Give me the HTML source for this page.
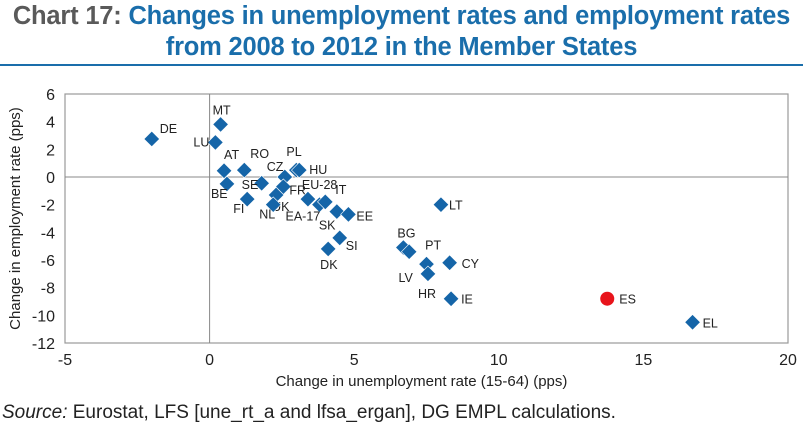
<!DOCTYPE html>
<html><head><meta charset="utf-8">
<style>
body{margin:0;width:803px;height:433px;background:#fff;overflow:hidden;font-family:"Liberation Sans",sans-serif;}
#title{position:absolute;left:0;top:1px;width:803px;font-weight:bold;font-size:25.5px;line-height:31px;color:#1a6eab;text-align:center;letter-spacing:-0.2px;}
#title .lab{color:#5a5a5a}
#rule{position:absolute;left:0;top:64px;width:803px;height:2px;background:#1a6eab}
#source{position:absolute;left:2px;top:402px;font-size:19px;color:#222}
svg{position:absolute;left:0;top:0}
</style></head><body>
<div id="title"><span class="lab">Chart 17:</span> Changes in unemployment rates and employment rates<br>from 2008 to 2012 in the Member States</div>
<div id="rule"></div>
<svg id="chart" width="803" height="433"></svg>
<div id="source"><i>Source:</i> Eurostat, LFS [une_rt_a and lfsa_ergan], DG EMPL calculations.</div>
<script>
const countries=["DE","MT","LU","AT","RO","BE","SE","CZ","PL","HU","FR","UK","NL","FI","EU-28","EA-17","IT","SK","EE","SI","DK","LT","BG","PT","LV","CY","HR","IE","ES","EL"];
const unempChange=[-2.0,0.38,0.2,0.5,1.2,0.6,1.8,2.6,3.0,3.1,2.55,2.3,2.2,1.3,3.4,3.8,4.0,4.4,4.8,4.5,4.1,8.0,6.7,6.9,7.5,8.3,7.55,8.35,13.75,16.7];
const empChange=[2.75,3.8,2.5,0.45,0.5,-0.5,-0.45,0,0.5,0.5,-0.7,-1.3,-2.0,-1.6,-1.6,-2.0,-1.8,-2.5,-2.7,-4.4,-5.2,-2.0,-5.1,-5.4,-6.3,-6.2,-7.0,-8.8,-8.8,-10.5];
const xTicks=[-5,0,5,10,15,20];
const yTicks=[6,4,2,0,-2,-4,-6,-8,-10,-12];
const labelOff={"DE":[8,-6],"MT":[-8,-10],"LU":[-22,4],"AT":[0,-12],"RO":[6,-12],"BE":[-16,14],"SE":[-20,6],"CZ":[-18,-6],"PL":[-10,-14],"HU":[10,4],"FR":[6,8],"UK":[-4,16],"NL":[-14,14],"FI":[-14,14],"EU-28":[-6,-10],"EA-17":[-34,16],"IT":[10,-8],"SK":[-18,18],"EE":[8,6],"SI":[6,12],"DK":[-8,20],"LT":[8,5],"BG":[-6,-10],"PT":[16,-2],"LV":[-28,18],"CY":[12,5],"HR":[-10,24],"IE":[10,5],"ES":[12,5],"EL":[10,5]};
const L=65,R=788,T=94,B=343;
const xs=v=>L+(v+5)/25*(R-L);
const ys=v=>T+(6-v)/18*(B-T);
const svg=document.getElementById('chart');const NS="http://www.w3.org/2000/svg";
function mk(t,a,p){const e=document.createElementNS(NS,t);for(const k in a)e.setAttribute(k,a[k]);(p||svg).appendChild(e);return e;}
const box=mk('rect',{x:L,y:T,width:R-L,height:B-T,fill:'none',stroke:'#999','stroke-width':1.2});


const zx=mk('line',{x1:xs(0),x2:xs(0),y1:T,y2:B,stroke:'#888'});


const zy=mk('line',{x1:L,x2:R,y1:ys(0),y2:ys(0),stroke:'#888'});


xTicks.forEach(v=>{const t=mk('text',{x:xs(v),y:B+22,'font-size':16,'text-anchor':'middle',fill:'#222'});t.textContent=v;

});
yTicks.forEach(v=>{const t=mk('text',{x:L-10,y:ys(v)+6,'font-size':16,'text-anchor':'end',fill:'#222'});t.textContent=v;

});
const xt=mk('text',{x:(L+R)/2-5,y:386,'font-size':15,'text-anchor':'middle',fill:'#222'});xt.textContent='Change in unemployment rate (15-64) (pps)';


const yt=mk('text',{x:0,y:0,'font-size':15,'text-anchor':'middle',fill:'#222',transform:`translate(20,${(T+B)/2}) rotate(-90)`});yt.textContent='Change in employment rate (pps)';


countries.forEach((c,i)=>{const px=xs(unempChange[i]),py=ys(empChange[i]);let m;
if(c==='ES'){m=mk('circle',{cx:px,cy:py,r:7,fill:'#e8141b'});}
else{m=mk('rect',{x:px-5.5,y:py-5.5,width:11,height:11,fill:'#1565a8',stroke:'#fff','stroke-width':0.6,transform:`rotate(45 ${px} ${py})`});}


const o=labelOff[c]||[8,5];const t=mk('text',{x:px+o[0],y:py+o[1],'font-size':12.5,fill:'#222'});t.textContent=c;

});
</script>
</body></html>
